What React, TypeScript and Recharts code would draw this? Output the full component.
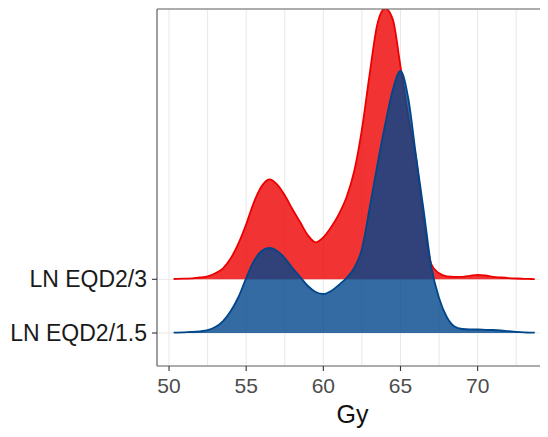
import React from 'react';
import { ComposedChart, Area, XAxis, YAxis, CartesianGrid, ReferenceLine } from 'recharts';

// Dose grid (Gy)
const gyValues = [
  50.3, 50.5, 51, 51.5, 52, 52.5, 53, 53.5, 54, 54.5, 55, 55.5, 56, 56.5, 57, 57.5,
  58, 58.5, 59, 59.5, 60, 60.5, 61, 61.5, 62, 62.5, 63, 63.5, 64, 64.5, 65, 65.5,
  66, 66.5, 67, 67.5, 68, 68.5, 69, 69.5, 70, 70.5, 71, 71.5, 72, 72.5, 73, 73.5, 73.7,
];

// LN EQD2/3 density (arbitrary units)
const eqd2a3Density = [
  0.3, 0.4, 0.7, 1, 1.8, 3, 6, 11, 21, 36, 55, 77, 93, 100, 95, 84,
  70, 57, 44, 37, 42, 52, 65, 82, 108, 150, 205, 255, 271, 260, 213, 163,
  122, 60, 15, 6, 3, 2.5, 2.5, 3.5, 4.5, 3.8, 2.5, 1.8, 1.2, 0.8, 0.5, 0.3, 0.2,
];

// LN EQD2/1.5 density (arbitrary units)
const eqd2a15Density = [
  0.3, 0.4, 0.7, 1, 1.6, 2.8, 6, 12, 22, 36, 55, 72, 82, 85, 82, 75,
  65, 56, 47, 41, 39, 42, 48, 55, 65, 84, 125, 168, 208, 243, 262, 235,
  178, 123, 66, 35, 16, 6.5, 4, 3.5, 3.5, 3.2, 3, 2.5, 1.8, 1.2, 0.7, 0.4, 0.3,
];

const ridgeLabels = ['LN EQD2/1.5', 'LN EQD2/3'];
const xTicks = [50, 52.5, 55, 57.5, 60, 62.5, 65, 67.5, 70, 72.5];
const majorTicks = [50, 55, 60, 65, 70];

const RIDGE_SCALE = 1 / 53.7;
const X_DOMAIN: [number, number] = [49.22, 74.56];
const Y_DOMAIN: [number, number] = [0.3855, 7.034];

const FONT = '"Liberation Sans", Arial, Helvetica, sans-serif';
const RED = '#ED0000';
const BLUE = '#00468B';

const rows = gyValues.map((g, i) => ({
  gy: g,
  eqd2a3: 2 + eqd2a3Density[i] * RIDGE_SCALE,
  eqd2a15: 1 + eqd2a15Density[i] * RIDGE_SCALE,
}));

const XTick = (props: any) => {
  const { x, y, payload } = props;
  const v = payload.value;
  if (!majorTicks.includes(v)) return <g />;
  return (
    <g>
      <line x1={x} x2={x} y1={y} y2={y + 5} stroke="#333" strokeWidth={1.1} />
      <text x={x} y={y + 27} textAnchor="middle" fontSize={21} fill="#4d4d4d" fontFamily={FONT}>
        {v}
      </text>
    </g>
  );
};

export default function App() {
  return (
    <div style={{ width: 540, height: 429, overflow: 'hidden' }}>
      <ComposedChart
        width={540}
        height={429}
        data={rows}
        margin={{ top: 1, right: 0, bottom: 0, left: 0 }}
      >
        <CartesianGrid stroke="#e8e8e8" strokeWidth={1} />
        <XAxis
          type="number"
          dataKey="gy"
          domain={X_DOMAIN}
          allowDataOverflow
          ticks={xTicks}
          interval={0}
          tick={<XTick />}
          tickLine={false}
          tickSize={0}
          tickMargin={0}
          height={71}
          axisLine={{ stroke: '#666', strokeWidth: 1.2 }}
          label={{ value: 'Gy', position: 'insideBottom', offset: 14, fontSize: 25, fill: '#111', fontFamily: FONT }}
        />
        <YAxis
          type="number"
          domain={Y_DOMAIN}
          allowDataOverflow
          ticks={[1, 2]}
          interval={0}
          width={149}
          tickSize={5}
          tickMargin={5}
          tickLine={{ stroke: '#333', strokeWidth: 1.1 }}
          axisLine={{ stroke: '#666', strokeWidth: 1.2 }}
          tickFormatter={(v: number) => ridgeLabels[Math.round(v) - 1]}
          tick={{ fontSize: 23, fill: '#1a1a1a', fontFamily: FONT }}
        />
        <Area
          type="monotone"
          dataKey="eqd2a3"
          baseValue={2}
          fill={RED}
          fillOpacity={0.8}
          stroke={RED}
          strokeWidth={1.8}
          dot={false}
          activeDot={false}
          isAnimationActive={false}
        />
        <Area
          type="monotone"
          dataKey="eqd2a15"
          baseValue={1}
          fill={BLUE}
          fillOpacity={0.8}
          stroke={BLUE}
          strokeWidth={1.8}
          dot={false}
          activeDot={false}
          isAnimationActive={false}
        />
        <ReferenceLine y={Y_DOMAIN[1]} stroke="#666" strokeWidth={1.2} />
      </ComposedChart>
    </div>
  );
}
